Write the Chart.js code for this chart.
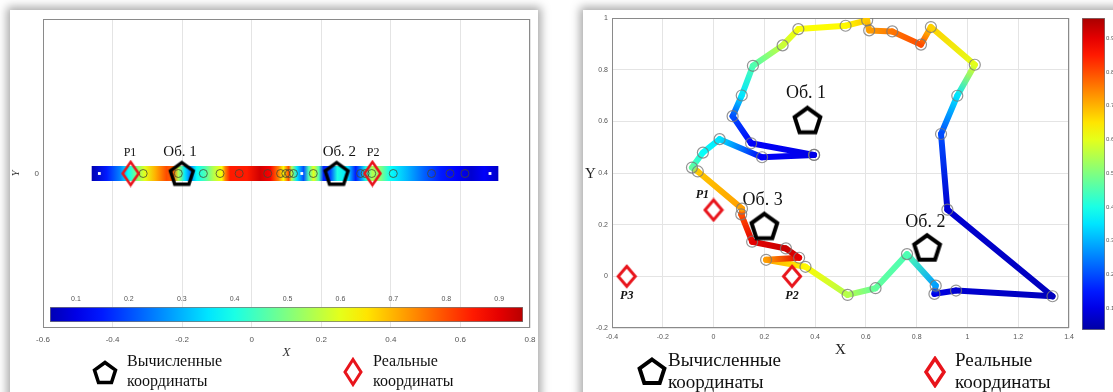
<!DOCTYPE html>
<html>
<head>
<meta charset="utf-8">
<script src="https://cdn.jsdelivr.net/npm/chart.js@4.4.0/dist/chart.umd.min.js"></script>
<style>
  body { margin: 0; width: 1113px; height: 392px; background: #fff; overflow: hidden; position: relative; }
  .panel { position: absolute; background: #fff; box-shadow: 0 0 9px 3px rgba(0,0,0,0.35); }
  .box { position: absolute; }
  .leg { position: absolute; font-family: 'Liberation Serif', serif; color: #111; white-space: nowrap; }
  .ttl { position: absolute; font-family: 'Liberation Serif', serif; color: #222; }
</style>
</head>
<body>
<div class="panel" style="left:10px;top:10px;width:528px;height:400px"></div>
<div class="panel" style="left:583px;top:10px;width:540px;height:400px"></div>

<div class="box" style="left:0;top:0;width:545px;height:360px"><canvas id="stripChart"></canvas></div>
<div class="box" style="left:45px;top:288px;width:490px;height:36px"><canvas id="stripBar"></canvas></div>
<div class="box" style="left:560px;top:0;width:520px;height:360px"><canvas id="pathChart"></canvas></div>
<div class="box" style="left:1078px;top:0;width:35px;height:340px"><canvas id="pathBar"></canvas></div>

<div class="ttl" style="left:585px;top:165px;font-size:15px">Y</div>

<!-- legends -->
<svg class="box" style="left:91px;top:359px" width="28" height="28">
  <polygon points="14,3.5 24.5,11.1 20.5,23.5 7.5,23.5 3.5,11.1" fill="#fff" stroke="#000" stroke-width="3.5"/>
</svg>
<div class="leg" style="left:127px;top:351px;font-size:16px;line-height:20px">Вычисленные<br>координаты</div>
<svg class="box" style="left:342px;top:357px" width="22" height="30">
  <polygon points="11,2.5 19,15 11,27.5 3,15" fill="#fff" stroke="#e8141b" stroke-width="3"/>
</svg>
<div class="leg" style="left:373px;top:351px;font-size:16px;line-height:20px">Реальные<br>координаты</div>

<svg class="box" style="left:636px;top:356px" width="32" height="32">
  <polygon points="16,3.5 28.4,12.5 23.7,27 8.3,27 3.6,12.5" fill="#fff" stroke="#000" stroke-width="4"/>
</svg>
<div class="leg" style="left:668px;top:349px;font-size:19px;line-height:22px">Вычисленные<br>координаты</div>
<svg class="box" style="left:923px;top:356px" width="24" height="32">
  <polygon points="12,2.5 21,16 12,29.5 3,16" fill="#fff" stroke="#e8141b" stroke-width="3.5"/>
</svg>
<div class="leg" style="left:955px;top:349px;font-size:19px;line-height:22px">Реальные<br>координаты</div>

<script>
// ---- left panel: 1-D strip along X ----
const stripX = [-0.46, -0.417, -0.379, -0.355, -0.331, -0.307, -0.278, -0.245, -0.225, -0.211,
  -0.192, -0.177, -0.158, -0.134, -0.11, -0.086, -0.076, -0.062, -0.014, 0.024,
  0.053, 0.077, 0.091, 0.106, 0.115, 0.13, 0.149, 0.164, 0.178, 0.193,
  0.207, 0.227, 0.246, 0.275, 0.299, 0.313, 0.328, 0.347, 0.371, 0.4,
  0.448, 0.496, 0.544, 0.592, 0.631, 0.669, 0.709];
const stripVal = [0.05, 0.15, 0.25, 0.38, 0.5, 0.6, 0.7, 0.8, 0.78, 0.55,
  0.35, 0.25, 0.38, 0.45, 0.55, 0.62, 0.75, 0.85, 0.85, 0.92,
  0.88, 0.75, 0.62, 0.8, 0.55, 0.35, 0.2, 0.45, 0.6, 0.45,
  0.15, 0.2, 0.4, 0.35, 0.15, 0.25, 0.4, 0.55, 0.5, 0.38,
  0.3, 0.22, 0.15, 0.12, 0.08, 0.12, 0.07];
const stripNodeX = [-0.312, -0.211, -0.139, -0.091, -0.036, 0.046, 0.083, 0.098, 0.108, 0.12,
  0.177, 0.313, 0.326, 0.345, 0.407, 0.517, 0.57, 0.613];
const stripEndX = [-0.438, 0.144, 0.685];
const stripCalcX = [-0.201, 0.244];
const stripRealX = [-0.348, 0.347];
const stripLabelText = ['P1', 'Об. 1', 'Об. 2', 'P2'];
const stripLabelX = [-0.35, -0.206, 0.252, 0.349];
const stripLabelY = [0.135, 0.141, 0.141, 0.135];

// ---- right panel: closed route in the plane ----
const pathX = [0.396, 0.148, 0.075, 0.111, 0.155, 0.272, 0.334, 0.52, 0.605, 0.613,
  0.704, 0.817, 0.856, 1.029, 0.96, 0.896, 0.921, 1.335, 0.955, 0.87,
  0.875, 0.762, 0.638, 0.528, 0.362, 0.207, 0.337, 0.285, 0.152, 0.109,
  0.112, -0.062, -0.085, -0.042, 0.024, 0.191, 0.396];
const pathY = [0.47, 0.515, 0.62, 0.70, 0.815, 0.894, 0.957, 0.97, 0.991, 0.952,
  0.948, 0.897, 0.965, 0.819, 0.699, 0.551, 0.258, -0.077, -0.055, -0.068,
  -0.036, 0.086, -0.046, -0.072, 0.037, 0.064, 0.072, 0.108, 0.134, 0.24,
  0.262, 0.406, 0.421, 0.479, 0.531, 0.461, 0.47];
const pathVal = [0.1, 0.12, 0.2, 0.35, 0.45, 0.57, 0.62, 0.63, 0.68, 0.72,
  0.76, 0.8, 0.67, 0.6, 0.35, 0.2, 0.08, 0.06, 0.08, 0.1,
  0.28, 0.45, 0.47, 0.55, 0.63, 0.72, 0.9, 0.93, 0.9, 0.8,
  0.72, 0.68, 0.47, 0.38, 0.35, 0.12, 0.1];
const calcX = [0.37, 0.2, 0.841];
const calcY = [0.605, 0.195, 0.112];
const calcText = ['Об. 1', 'Об. 3', 'Об. 2'];
const calcTextX = [0.364, 0.193, 0.834];
const calcTextY = [0.709, 0.296, 0.211];
const realX = [0.0, 0.309, -0.342];
const realY = [0.257, 0.0, 0.0];
const realText = ['P1', 'P2', 'P3'];
const realTextX = [-0.044, 0.309, -0.342];
const realTextY = [0.315, -0.076, -0.076];

const colorbarTicks = [0.1, 0.2, 0.3, 0.4, 0.5, 0.6, 0.7, 0.8, 0.9];

const tickFont = 'Liberation Sans';
const serif = 'Liberation Serif';

// MATLAB-like tick text: 1, 0.8, 0, -0.2
const fmt = v => {
  const r = Math.round(v * 10) / 10;
  return String(r === 0 ? 0 : r);
};

// MATLAB "jet" colormap
function jet(v) {
  const c = t => Math.round(255 * Math.max(0, Math.min(1, 1.5 - Math.abs(t))));
  return `rgb(${c(4 * v - 3)},${c(4 * v - 2)},${c(4 * v - 1)})`;
}

function jetGradient(ctx, x0, y0, x1, y1) {
  const g = ctx.createLinearGradient(x0, y0, x1, y1);
  for (let i = 0; i <= 20; i++) g.addColorStop(i / 20, jet(i / 20));
  return g;
}

function pentagon(R, lw, fill) {
  const s = Math.ceil(2 * R + lw + 2);
  const c = document.createElement('canvas');
  c.width = s; c.height = s;
  const g = c.getContext('2d');
  const cx = s / 2, cy = s / 2 + R * (1 - Math.cos(Math.PI / 5)) / 2;
  g.beginPath();
  for (let k = 0; k < 5; k++) {
    const a = -Math.PI / 2 + k * 2 * Math.PI / 5;
    g.lineTo(cx + R * Math.cos(a), cy + R * Math.sin(a));
  }
  g.closePath();
  if (fill) { g.fillStyle = fill; g.fill(); }
  g.lineWidth = lw; g.strokeStyle = '#000'; g.stroke();
  return c;
}

function diamond(w, h, lw, fill) {
  const c = document.createElement('canvas');
  c.width = Math.ceil(w + lw + 2); c.height = Math.ceil(h + lw + 2);
  const g = c.getContext('2d');
  const cx = c.width / 2, cy = c.height / 2;
  g.beginPath();
  g.moveTo(cx, cy - h / 2); g.lineTo(cx + w / 2, cy);
  g.lineTo(cx, cy + h / 2); g.lineTo(cx - w / 2, cy);
  g.closePath();
  if (fill) { g.fillStyle = fill; g.fill(); }
  g.lineWidth = lw; g.strokeStyle = '#e8141b'; g.stroke();
  return c;
}

// plot box like MATLAB
const frame = {
  id: 'frame',
  beforeDatasetsDraw(chart) {
    const { ctx, chartArea: a } = chart;
    ctx.save();
    ctx.strokeStyle = '#8a8a8a';
    ctx.lineWidth = 1;
    ctx.strokeRect(a.left + 0.5, a.top + 0.5, a.width - 1, a.height - 1);
    ctx.restore();
  }
};

function textLabels(items) {
  return {
    id: 'textLabels',
    afterDatasetsDraw(chart) {
      const { ctx, scales: { x, y } } = chart;
      ctx.save();
      ctx.fillStyle = '#111';
      ctx.textAlign = 'center';
      ctx.textBaseline = 'middle';
      items.forEach(it => {
        ctx.font = it.font;
        ctx.fillText(it.text, x.getPixelForValue(it.x), y.getPixelForValue(it.y));
      });
      ctx.restore();
    }
  };
}

const stripItems = stripLabelText.map((t, i) => ({
  text: t, x: stripLabelX[i], y: stripLabelY[i],
  font: t.startsWith('P') ? `12px "${serif}"` : `15px "${serif}"`
}));

const pathItems = calcText.map((t, i) => ({
  text: t, x: calcTextX[i], y: calcTextY[i], font: `18px "${serif}"`
})).concat(realText.map((t, i) => ({
  text: t, x: realTextX[i], y: realTextY[i], font: `italic bold 12px "${serif}"`
})));

// left chart
new Chart(document.getElementById('stripChart'), {
  type: 'scatter',
  data: {
    datasets: [
      { label: 'calc', data: stripCalcX.map(x => ({ x, y: 0 })), pointStyle: pentagon(12, 3.5, null), pointRadius: 10, order: 0 },
      { label: 'real', data: stripRealX.map(x => ({ x, y: 0 })), pointStyle: diamond(16, 23, 2.6, null), pointRadius: 10, order: 1 },
      { label: 'nodes', data: stripNodeX.map(x => ({ x, y: 0 })), pointStyle: 'circle', pointRadius: 4,
        borderColor: 'rgba(70,70,50,0.8)', backgroundColor: 'rgba(0,0,0,0)', borderWidth: 1, order: 2 },
      { label: 'ends', data: stripEndX.map(x => ({ x, y: 0 })), pointStyle: 'rect', pointRadius: 2,
        backgroundColor: '#fff', borderWidth: 0, order: 3 },
      { label: 'strip', data: stripX.map(x => ({ x, y: 0 })), showLine: true, pointRadius: 0,
        borderWidth: 15, borderCapStyle: 'butt', order: 4,
        borderColor: ctx => {
          const chart = ctx.chart, xs = chart.scales.x;
          if (!chart.chartArea || !xs) return jet(0.5);
          const first = stripX[0], last = stripX[stripX.length - 1];
          const g = chart.ctx.createLinearGradient(xs.getPixelForValue(first), 0, xs.getPixelForValue(last), 0);
          stripX.forEach((x, i) => g.addColorStop((x - first) / (last - first), jet(stripVal[i])));
          return g;
        } }
    ]
  },
  options: {
    animation: false,
    responsive: true,
    maintainAspectRatio: false,
    layout: { padding: { top: 19, right: 15, left: 0, bottom: 0 } },
    plugins: { legend: { display: false }, tooltip: { enabled: false } },
    scales: {
      x: {
        type: 'linear', min: -0.6, max: 0.8,
        ticks: { stepSize: 0.2, autoSkip: false, maxRotation: 0, callback: fmt, font: { family: tickFont, size: 8 }, color: '#555', padding: 7 },
        grid: { color: '#e4e4e4', drawTicks: false },
        border: { display: false },
        title: { display: true, text: 'X', font: { family: serif, style: 'italic', size: 13 }, color: '#333', padding: { top: 0, bottom: 0 } },
        afterFit: s => { s.height = 32; }
      },
      y: {
        type: 'linear', min: -1, max: 1,
        afterBuildTicks: s => { s.ticks = [{ value: 0 }]; },
        ticks: { callback: fmt, font: { family: tickFont, size: 8 }, color: '#555', padding: 4 },
        grid: { display: false, drawTicks: false },
        border: { display: false },
        title: { display: true, text: 'Y', font: { family: serif, style: 'italic', size: 11 }, color: '#333', padding: { top: 10, bottom: 0 } },
        afterFit: s => { s.width = 43; }
      }
    }
  },
  plugins: [frame, textLabels(stripItems)]
});

// left colour bar (horizontal, inside the plot)
new Chart(document.getElementById('stripBar'), {
  type: 'bar',
  data: {
    labels: ['c'],
    datasets: [{
      data: [[0.051, 0.945]],
      barPercentage: 1, categoryPercentage: 1,
      borderWidth: 1, borderColor: '#777', borderSkipped: false,
      backgroundColor: ctx => {
        const chart = ctx.chart, xs = chart.scales.x;
        if (!chart.chartArea || !xs) return '#888';
        return jetGradient(chart.ctx, xs.getPixelForValue(0), 0, xs.getPixelForValue(1), 0);
      }
    }]
  },
  options: {
    indexAxis: 'y',
    animation: false,
    responsive: true,
    maintainAspectRatio: false,
    layout: { padding: { left: 5, right: 12, top: 0, bottom: 2 } },
    plugins: { legend: { display: false }, tooltip: { enabled: false } },
    scales: {
      x: {
        type: 'linear', position: 'top', min: 0.051, max: 0.945,
        afterBuildTicks: s => { s.ticks = colorbarTicks.map(v => ({ value: v })); },
        ticks: { autoSkip: false, maxRotation: 0, callback: fmt, font: { family: tickFont, size: 7 }, color: '#555', padding: 4 },
        grid: { display: false, drawTicks: false },
        border: { display: false },
        afterFit: s => { s.height = 19; }
      },
      y: { display: false }
    }
  }
});

// right chart
new Chart(document.getElementById('pathChart'), {
  type: 'scatter',
  data: {
    datasets: [
      { label: 'calc', data: calcX.map((x, i) => ({ x, y: calcY[i] })), pointStyle: pentagon(13.5, 4, '#fff'), pointRadius: 10, order: 0 },
      { label: 'real', data: realX.map((x, i) => ({ x, y: realY[i] })), pointStyle: diamond(17, 20, 3, '#fff'), pointRadius: 10, order: 1 },
      { label: 'nodes', data: pathX.map((x, i) => ({ x, y: pathY[i] })), pointStyle: 'circle', pointRadius: 5.5,
        borderColor: 'rgba(120,120,120,0.8)', backgroundColor: 'rgba(0,0,0,0)', borderWidth: 1.2, order: 2 },
      { label: 'route', data: pathX.map((x, i) => ({ x, y: pathY[i] })), showLine: true, pointRadius: 0,
        borderWidth: 6, borderCapStyle: 'round', borderJoinStyle: 'round', order: 3,
        borderColor: jet(0.1),
        segment: {
          borderColor: ctx => {
            const g = ctx.chart.ctx.createLinearGradient(ctx.p0.x, ctx.p0.y, ctx.p1.x, ctx.p1.y);
            g.addColorStop(0, jet(pathVal[ctx.p0DataIndex]));
            g.addColorStop(1, jet(pathVal[ctx.p1DataIndex]));
            return g;
          }
        } }
    ]
  },
  options: {
    animation: false,
    responsive: true,
    maintainAspectRatio: false,
    layout: { padding: { top: 18, right: 9, left: 0, bottom: 0 } },
    plugins: { legend: { display: false }, tooltip: { enabled: false } },
    scales: {
      x: {
        type: 'linear', min: -0.4, max: 1.4,
        ticks: { stepSize: 0.2, autoSkip: false, maxRotation: 0, callback: fmt, font: { family: tickFont, size: 7 }, color: '#555', padding: 5 },
        grid: { color: '#e4e4e4', drawTicks: false },
        border: { display: false },
        title: { display: true, text: 'X', font: { family: serif, size: 15 }, color: '#222', padding: { top: 0, bottom: 1 } },
        afterFit: s => { s.height = 32; }
      },
      y: {
        type: 'linear', min: -0.2, max: 1,
        ticks: { stepSize: 0.2, autoSkip: false, callback: fmt, font: { family: tickFont, size: 7 }, color: '#555', padding: 4 },
        grid: { color: '#e4e4e4', drawTicks: false },
        border: { display: false },
        afterFit: s => { s.width = 52; }
      }
    }
  },
  plugins: [frame, textLabels(pathItems)]
});

// right colour bar (vertical)
new Chart(document.getElementById('pathBar'), {
  type: 'bar',
  data: {
    labels: ['c'],
    datasets: [{
      data: [[0.035, 0.96]],
      barPercentage: 1, categoryPercentage: 1,
      borderWidth: 1, borderColor: '#777', borderSkipped: false,
      backgroundColor: ctx => {
        const chart = ctx.chart, ys = chart.scales.y;
        if (!chart.chartArea || !ys) return '#888';
        return jetGradient(chart.ctx, 0, ys.getPixelForValue(0), 0, ys.getPixelForValue(1));
      }
    }]
  },
  options: {
    animation: false,
    responsive: true,
    maintainAspectRatio: false,
    layout: { padding: { left: 4, right: 0, top: 18, bottom: 10 } },
    plugins: { legend: { display: false }, tooltip: { enabled: false } },
    scales: {
      x: { display: false },
      y: {
        type: 'linear', position: 'right', min: 0.035, max: 0.96,
        afterBuildTicks: s => { s.ticks = colorbarTicks.map(v => ({ value: v })); },
        ticks: { autoSkip: false, callback: fmt, font: { family: tickFont, size: 6 }, color: '#555', padding: 1 },
        grid: { display: false, drawTicks: false },
        border: { display: false },
        afterFit: s => { s.width = 8; }
      }
    }
  }
});
</script>
</body>
</html>
